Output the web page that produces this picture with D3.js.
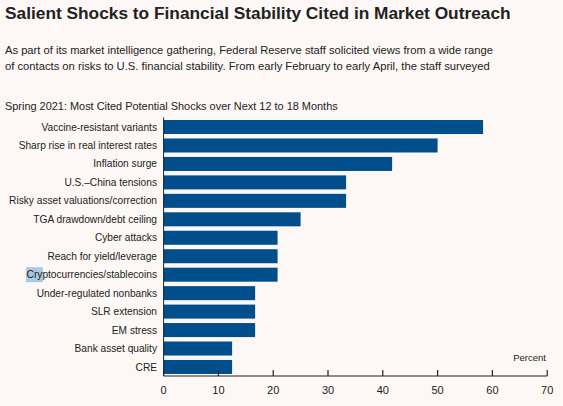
<!DOCTYPE html>
<html><head><meta charset="utf-8">
<script src="https://cdn.jsdelivr.net/npm/d3@7"></script>
<style>
html,body{margin:0;padding:0;background:#fdf8f5;}
svg{display:block;font-family:"Liberation Sans",Arial,sans-serif;}
</style></head>
<body>
<svg id="c" width="563" height="406"></svg>
<script>
const categories = ["Vaccine-resistant variants","Sharp rise in real interest rates","Inflation surge","U.S.\u2013China tensions","Risky asset valuations/correction","TGA drawdown/debt ceiling","Cyber attacks","Reach for yield/leverage","Cryptocurrencies/stablecoins","Under-regulated nonbanks","SLR extension","EM stress","Bank asset quality","CRE"];
const values = [58.3,50,41.7,33.3,33.3,25,20.8,20.8,20.8,16.7,16.7,16.7,12.5,12.5];
const xTicks = [0,10,20,30,40,50,60,70];
const title = "Salient Shocks to Financial Stability Cited in Market Outreach";
const subtitle = ["As part of its market intelligence gathering, Federal Reserve staff solicited views from a wide range","of contacts on risks to U.S. financial stability. From early February to early April, the staff surveyed"];
const chartTitle = "Spring 2021: Most Cited Potential Shocks over Next 12 to 18 Months";
const unitLabel = "Percent";

const svg = d3.select("#c");
svg.append("rect").attr("width",563).attr("height",406).attr("fill","#fdf8f5");

function fit(t, w){ // adjust font size so text spans w px
  const len = t.node().getComputedTextLength();
  const fs = parseFloat(t.attr("font-size"));
  t.attr("font-size", fs*w/len);
}

const tt = svg.append("text").attr("x",5).attr("y",18.5).attr("font-size",18).attr("font-weight","bold").attr("fill","#222").text(title);
fit(tt,506);
subtitle.forEach((s,i)=>{
  const t = svg.append("text").attr("x",5).attr("y",[53.5,70][i]).attr("font-size",13).attr("fill","#222").text(s);
  fit(t,[488.5,485][i]);
});
const ct = svg.append("text").attr("x",5).attr("y",110).attr("font-size",12).attr("fill","#222").text(chartTitle);
fit(ct,333);

const x = d3.scaleLinear().domain([0,70]).range([163.6,547.2]);
const y = d3.scaleBand().domain(categories).range([117.8,376.2]).paddingInner(0.24).paddingOuter(0.12);

// highlight artifact behind "Cry"
const g = svg.append("g");

svg.selectAll("rect.bar").data(values).join("rect").attr("class","bar")
  .attr("x",x(0)).attr("y",(d,i)=>y(categories[i]))
  .attr("width",d=>x(d)-x(0)).attr("height",y.bandwidth())
  .attr("fill","#004f8c");

const labels = svg.selectAll("text.lab").data(categories).join("text").attr("class","lab")
  .attr("x",157).attr("y",d=>y(d)+y.bandwidth()/2).attr("dy","0.35em")
  .attr("text-anchor","end").attr("font-size",11).attr("fill","#222").text(d=>d);
// scale label font to match reference width of longest label
{
  const n = labels.filter(d=>d==="Risky asset valuations/correction").node();
  const fs = 11*148/n.getComputedTextLength();
  labels.attr("font-size",fs);
  const cn = labels.filter(d=>d.startsWith("Crypto")).node();
  const ext = cn.getExtentOfChar(0), ext2 = cn.getExtentOfChar(2);
  g.append("rect").attr("x",ext.x-0.5).attr("y",y("Cryptocurrencies/stablecoins")-0.5)
   .attr("width",ext2.x+ext2.width-ext.x+1).attr("height",y.bandwidth()+1).attr("fill","#a9c8e2");
}

// axis
const ax = svg.append("g").attr("transform",`translate(0,${376})`);
ax.append("line").attr("x1",x(0)).attr("x2",x(70)).attr("stroke","#222").attr("stroke-width",1.2);
ax.selectAll("line.tk").data(xTicks).join("line").attr("class","tk")
  .attr("x1",d=>x(d)).attr("x2",d=>x(d)).attr("y1",0).attr("y2",-6).attr("stroke","#222").attr("stroke-width",1.2);
ax.selectAll("text.tl").data(xTicks).join("text").attr("class","tl")
  .attr("x",d=>x(d)).attr("y",18).attr("text-anchor","middle").attr("font-size",11).attr("fill","#222").text(d=>d);
svg.append("line").attr("x1",x(0)).attr("x2",x(0)).attr("y1",117.5).attr("y2",376).attr("stroke","#222").attr("stroke-width",1);
svg.append("text").attr("x",546).attr("y",361).attr("text-anchor","end").attr("font-size",9.5).attr("fill","#222").text(unitLabel);
</script>
</body></html>
